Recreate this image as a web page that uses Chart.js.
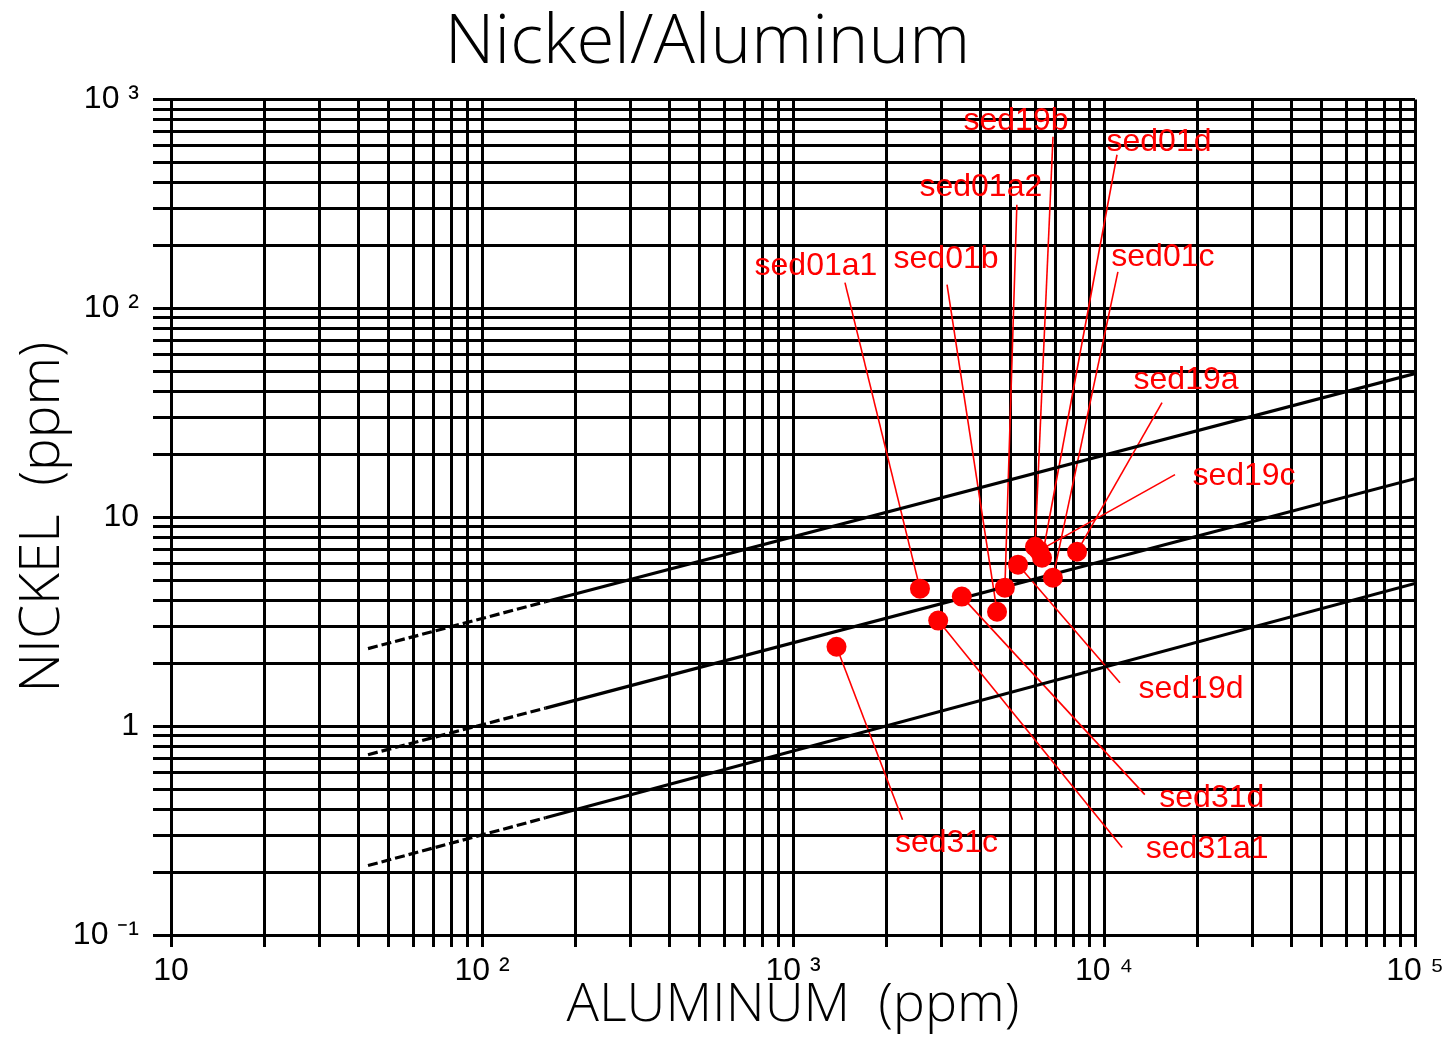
<!DOCTYPE html>
<html>
<head>
<meta charset="utf-8">
<title>Nickel/Aluminum</title>
<script src="https://cdn.jsdelivr.net/npm/chart.js@4.4.1/dist/chart.umd.min.js"></script>
<style>
  html, body { margin: 0; padding: 0; background: #fff; }
  #wrap { width: 1456px; height: 1039px; }
</style>
</head>
<body>
<div id="wrap"><canvas id="niAl" width="1456" height="1039"></canvas></div>
<script>
// sediment samples, ppm
const sampleNames = ['sed01a1', 'sed01a2', 'sed01b', 'sed01c', 'sed01d', 'sed19a',
                     'sed19b', 'sed19c', 'sed19d', 'sed31d', 'sed31a1', 'sed31c'];
const aluminum = [2560, 4800, 4530, 6850, 6320, 8190, 6000, 6180, 5290, 3490, 2930, 1380];
const nickel   = [4.55, 4.60, 3.53, 5.13, 6.40, 6.84, 7.22, 6.92, 5.93, 4.17, 3.20, 2.40];

// reference band: centre line and upper/lower limits (dashed at the low-Al end)
const lineAl   = [43, 160, 100000];
const upperNi  = [2.35, 3.94, 48.7];
const middleNi = [0.73, 1.22, 15.3];
const lowerNi  = [0.215, 0.364, 4.82];

const xDecades = [10, 100, 1000, 10000, 100000];
const xTickLabels = ['10', '10 ²', '10 ³', '10 ⁴', '10 ⁵'];
const yDecades = [0.1, 1, 10, 100, 1000];
const yTickLabels = ['10 ⁻¹', '1', '10', '10 ²', '10 ³'];

// callouts: text centre relative to its point, and where the leader meets the text (px)
const labelOffset = [[-104, -323], [-24, -401], [-51, -353], [110, -321], [117, -416], [109, -172],
                     [-19, -426], [205, -74], [173, 125], [250, 202], [269, 229], [110, 196]];
const leaderAnchor = [[29, 17], [36, 18], [1, 26], [-45, 15], [-42, 13], [-24, 23],
                      [37, 16], [-69, -2], [-71, -7], [-67, -4], [-85, -2], [-44, -23]];

const RED = '#ff0000';
const tickFont = { family: "'Liberation Sans', Arial, sans-serif", size: 32 };
const titleFamily = "'Open Sans', 'Liberation Sans', sans-serif";

// 1..9 x every decade, so every line of the log paper gets a grid line
function logGrid(lo, hi) {
  const vals = [];
  for (let d = lo; d < hi * 0.999; d *= 10) {
    for (let k = 1; k < 10; k++) vals.push(+(k * d).toPrecision(3));
  }
  vals.push(hi);
  return vals;
}

function decadeLabel(decades, labels) {
  return function (value) {
    const i = decades.findIndex(d => Math.abs(d - value) / d < 1e-6);
    return i < 0 ? '' : labels[i];
  };
}

const callouts = {
  id: 'callouts',
  beforeDatasetsDraw(chart) {
    const { ctx, scales: { x, y } } = chart;
    ctx.save();
    ctx.strokeStyle = RED;
    ctx.lineWidth = 1.6;
    sampleNames.forEach((name, i) => {
      const px = x.getPixelForValue(aluminum[i]);
      const py = y.getPixelForValue(nickel[i]);
      ctx.beginPath();
      ctx.moveTo(px, py);
      ctx.lineTo(px + labelOffset[i][0] + leaderAnchor[i][0], py + labelOffset[i][1] + leaderAnchor[i][1]);
      ctx.stroke();
    });
    ctx.restore();
  },
  afterDatasetsDraw(chart) {
    const { ctx, scales: { x, y } } = chart;
    ctx.save();
    ctx.fillStyle = RED;
    ctx.font = "32px 'Liberation Sans', Arial, sans-serif";
    ctx.textAlign = 'center';
    ctx.textBaseline = 'middle';
    sampleNames.forEach((name, i) => {
      const px = x.getPixelForValue(aluminum[i]);
      const py = y.getPixelForValue(nickel[i]);
      ctx.fillText(name, px + labelOffset[i][0], py + labelOffset[i][1]);
    });
    ctx.restore();
  }
};

function bandLine(ni) {
  return {
    data: lineAl.map((a, i) => ({ x: a, y: ni[i] })),
    showLine: true,
    borderColor: '#000',
    borderWidth: 3.2,
    pointRadius: 0,
    fill: false,
    segment: { borderDash: c => (c.p0DataIndex === 0 ? [10, 4] : undefined) }
  };
}

const gridStyle = { color: '#000', lineWidth: 3, tickColor: '#000', tickWidth: 3 };

new Chart(document.getElementById('niAl'), {
  type: 'scatter',
  data: {
    datasets: [
      {
        data: aluminum.map((a, i) => ({ x: a, y: nickel[i] })),
        backgroundColor: RED,
        borderWidth: 0,
        pointRadius: 10
      },
      bandLine(upperNi),
      bandLine(middleNi),
      bandLine(lowerNi)
    ]
  },
  options: {
    responsive: false,
    animation: false,
    devicePixelRatio: 1,
    layout: { padding: { left: 0, right: 41, top: 0, bottom: 0 } },
    plugins: {
      legend: { display: false },
      tooltip: { enabled: false },
      title: {
        display: true,
        text: 'Nickel/Aluminum',
        color: '#000',
        font: { family: titleFamily, weight: '300', size: 69, lineHeight: 1.1 },
        padding: { top: 5, bottom: 18.6 }
      }
    },
    scales: {
      x: {
        type: 'logarithmic',
        min: 10,
        max: 100000,
        afterBuildTicks: s => { s.ticks = logGrid(10, 100000).map(v => ({ value: v })); },
        afterFit: s => { s.height = 104; },
        grid: { ...gridStyle, tickLength: 12 },
        border: { color: '#000', width: 3 },
        ticks: {
          autoSkip: false, maxRotation: 0, padding: 5, color: '#000', font: tickFont,
          callback: decadeLabel(xDecades, xTickLabels)
        },
        title: {
          display: true,
          text: 'ALUMINUM  (ppm)',
          color: '#000',
          font: { family: titleFamily, weight: '300', size: 54 },
          padding: { top: 0, bottom: 1 }
        }
      },
      y: {
        type: 'logarithmic',
        min: 0.1,
        max: 1000,
        afterBuildTicks: s => { s.ticks = logGrid(0.1, 1000).map(v => ({ value: v })); },
        afterFit: s => { s.width = 171; },
        grid: { ...gridStyle, tickLength: 18 },
        border: { color: '#000', width: 3 },
        ticks: {
          autoSkip: false, padding: 14, color: '#000', font: tickFont,
          callback: decadeLabel(yDecades, yTickLabels)
        },
        title: {
          display: true,
          text: 'NICKEL  (ppm)',
          color: '#000',
          font: { family: titleFamily, weight: '300', size: 55 },
          padding: { top: 10, bottom: 0 }
        }
      }
    }
  },
  plugins: [callouts]
});
</script>
</body>
</html>
